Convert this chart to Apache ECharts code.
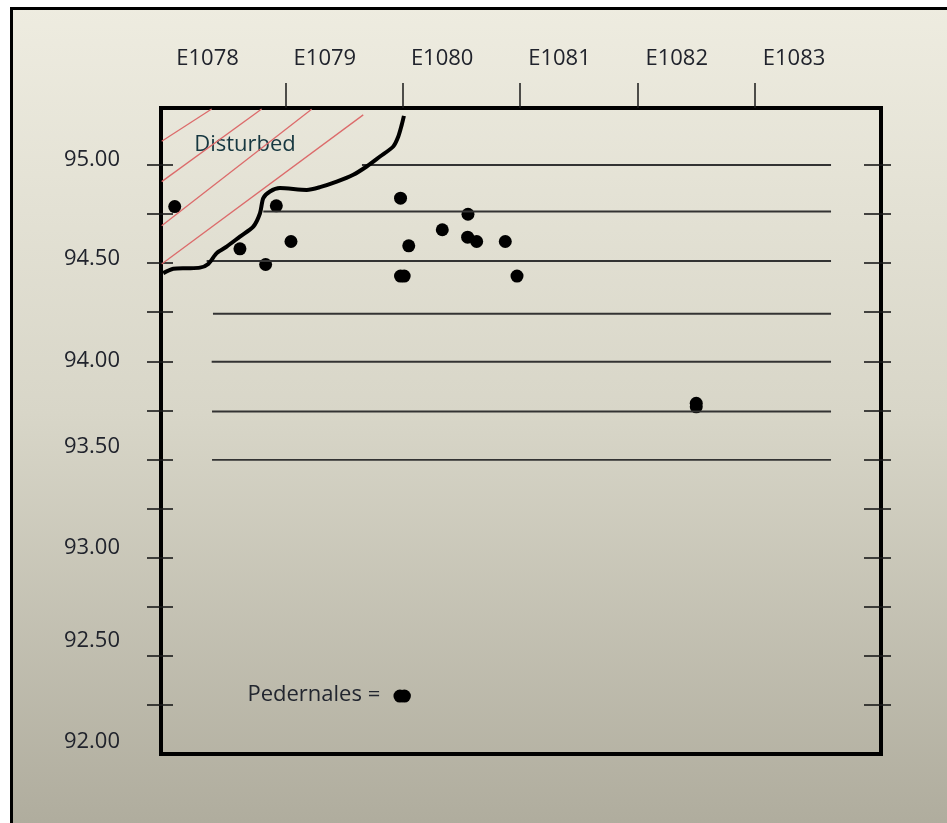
<!DOCTYPE html>
<html><head><meta charset="utf-8">
<script src="https://cdn.jsdelivr.net/npm/echarts@6/dist/echarts.min.js"></script>
<style>html,body{margin:0;padding:0;background:#fff;}#c{width:947px;height:823px;}</style>
</head><body><div id="c"></div>
<script>
// ---- axes ----
const xTickValues = [1079, 1080, 1081, 1082, 1083];
const xLabelValues = [1078, 1079, 1080, 1081, 1082, 1083];
const yTickValues = [92.25, 92.5, 92.75, 93, 93.25, 93.5, 93.75, 94, 94.25, 94.5, 94.75, 95];
const yLabelTexts = ['92.00', '92.50', '93.00', '93.50', '94.00', '94.50', '95.00'];
// where the hand-drawn labels sit on the elevation scale
const yLabelPositions = [92.061, 92.576, 93.049, 93.564, 94.002, 94.522, 95.026];

// ---- strata lines (elevation, start E, end E) ----
const strataY      = [95.000, 94.763, 94.511, 94.242, 93.998, 93.744, 93.498];
const strataXStart = [1079.651, 1078.810, 1078.327, 1078.381, 1078.370, 1078.373, 1078.373];
const strataXEnd   = [1083.650, 1083.650, 1083.650, 1083.650, 1083.650, 1083.650, 1083.650];

// ---- disturbed boundary ----
const boundaryX = [1077.957, 1078.043, 1078.157, 1078.270, 1078.341, 1078.413, 1078.498, 1078.611, 1078.725, 1078.782, 1078.810, 1078.867, 1078.952, 1079.180, 1079.293, 1079.436, 1079.577, 1079.691, 1079.805, 1079.918, 1079.961, 1079.990, 1080.009];
const boundaryY = [94.449, 94.471, 94.474, 94.477, 94.496, 94.551, 94.584, 94.635, 94.686, 94.754, 94.831, 94.865, 94.882, 94.873, 94.887, 94.915, 94.950, 94.992, 95.043, 95.094, 95.145, 95.204, 95.250];

// ---- hatch lines in disturbed zone ----
const hatchX1 = [1077.944, 1077.944, 1077.944, 1077.944];
const hatchY1 = [95.121, 94.915, 94.690, 94.496];
const hatchX2 = [1078.370, 1078.796, 1079.222, 1079.662];
const hatchY2 = [95.285, 95.285, 95.284, 95.255];

// ---- pedernales finds ----
const pedX = [1078.055, 1078.921, 1078.611, 1078.830, 1079.046, 1079.980, 1080.050, 1079.980, 1080.011, 1080.336, 1080.555, 1080.552, 1080.629, 1080.873, 1080.973, 1082.501, 1082.501];
const pedY = [94.788, 94.792, 94.573, 94.493, 94.610, 94.831, 94.588, 94.434, 94.434, 94.670, 94.749, 94.632, 94.610, 94.610, 94.434, 93.786, 93.768];

// ---- legend ----
const legendDotX = [1079.975, 1080.013];
const legendDotY = [92.295, 92.295];
const legendText = 'Pedernales =';
const legendTextPos = [1079.807, 92.303];
const zoneText = 'Disturbed';
const zoneTextPos = [1078.654, 95.102];

const FONT = 'Open Sans';
const X_MIN = 1077.938, X_MAX = 1084.076, Y_MIN = 92, Y_MAX = 95.29;

const series = [];
strataY.forEach((y, i) => {
  series.push({ type: 'line', symbol: 'none', silent: true,
    lineStyle: { color: '#333', width: 1.9 },
    data: [[strataXStart[i], y], [strataXEnd[i], y]] });
});
hatchX1.forEach((x, i) => {
  series.push({ type: 'line', symbol: 'none', silent: true,
    lineStyle: { color: '#dc6b6b', width: 1.3 },
    data: [[x, hatchY1[i]], [hatchX2[i], hatchY2[i]]] });
});
series.push({ type: 'line', symbol: 'none', smooth: 0.25, silent: true,
  lineStyle: { color: '#000', width: 4 },
  data: boundaryX.map((x, i) => [x, boundaryY[i]]) });
series.push({ type: 'scatter', symbol: 'circle', symbolSize: 13,
  itemStyle: { color: '#000', opacity: 1 }, data: pedX.map((x, i) => [x, pedY[i]]) });
series.push({ type: 'scatter', symbol: 'circle', symbolSize: 13,
  itemStyle: { color: '#000', opacity: 1 }, data: legendDotX.map((x, i) => [x, legendDotY[i]]) });
series.push({ type: 'scatter', symbolSize: 0, silent: true, itemStyle: { opacity: 1 },
  label: { show: true, position: 'inside', formatter: zoneText, fontFamily: FONT, fontSize: 22, color: '#163740', opacity: 1 },
  data: [zoneTextPos] });
series.push({ type: 'scatter', symbolSize: 0, silent: true, itemStyle: { opacity: 1 },
  label: { show: true, position: 'left', distance: 0, formatter: legendText, fontFamily: FONT, fontSize: 22, color: '#22262f', opacity: 1 },
  data: [legendTextPos] });

function yAxisDef(pos, inside, len, withLabels) {
  return {
    type: 'value', position: pos, min: Y_MIN, max: Y_MAX,
    splitLine: { show: false },
    axisLine: { show: false },
    axisTick: { show: true, inside: inside, length: len, customValues: yTickValues,
      lineStyle: { color: '#1a1a1a', width: 1.6 } },
    axisLabel: withLabels ? {
      show: true, customValues: yLabelPositions, margin: 41,
      formatter: v => {
        let best = 0;
        yLabelPositions.forEach((p, i) => { if (Math.abs(p - v) < Math.abs(yLabelPositions[best] - v)) best = i; });
        return yLabelTexts[best];
      },
      fontFamily: FONT, fontSize: 22, color: '#20232c'
    } : { show: false }
  };
}

const chart = echarts.init(document.getElementById('c'), null, { renderer: 'canvas' });
chart.setOption({
  animation: false,
  backgroundColor: 'transparent',
  graphic: [{
    type: 'rect', z: -10, silent: true,
    shape: { x: 11.5, y: 8.5, width: 1000, height: 900 },
    style: {
      stroke: '#000', lineWidth: 3,
      fill: new echarts.graphic.LinearGradient(0, 0, 0, 1, [
        { offset: 0, color: '#eeece0' },
        { offset: 0.45, color: '#d8d6c8' },
        { offset: 0.9, color: '#b0ad9e' },
        { offset: 1, color: '#a9a696' }
      ])
    }
  }],
  grid: { left: 161, top: 108, width: 720, height: 646, show: true,
    borderColor: '#000', borderWidth: 4, backgroundColor: 'transparent' },
  xAxis: [{
    type: 'value', position: 'top', min: X_MIN, max: X_MAX,
    splitLine: { show: false }, axisLine: { show: false },
    axisTick: { show: true, length: 25, customValues: xTickValues,
      lineStyle: { color: '#1a1a1a', width: 1.5 } },
    axisLabel: { show: true, customValues: xLabelValues, margin: 38, align: 'left',
      padding: [0, 0, 0, 8], formatter: v => 'E' + Math.round(v),
      fontFamily: FONT, fontSize: 22, color: '#20232c' }
  }],
  yAxis: [
    yAxisDef('left', false, 14, true),
    yAxisDef('left', true, 12, false),
    yAxisDef('right', false, 10, false),
    yAxisDef('right', true, 17, false)
  ],
  series: series
});
</script></body></html>
